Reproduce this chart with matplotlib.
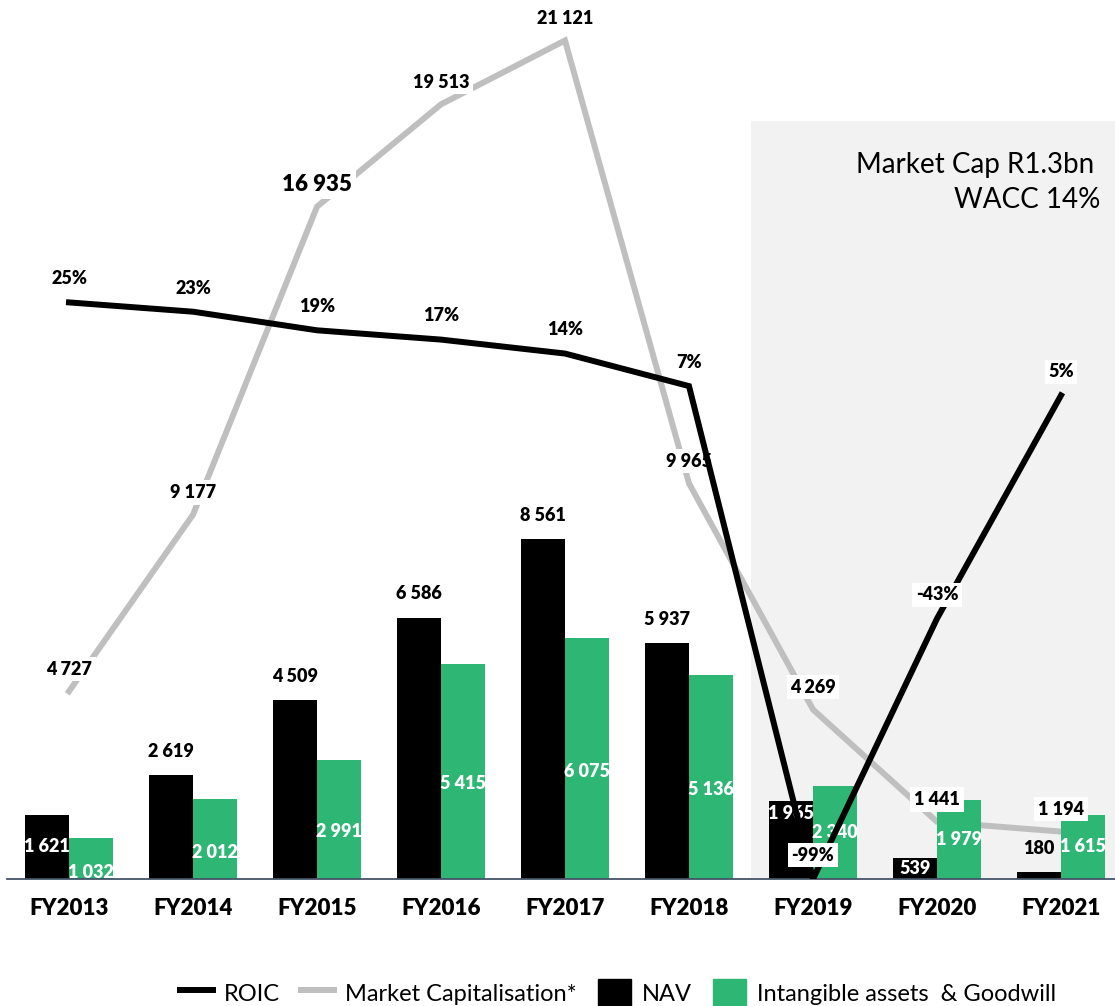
import matplotlib
matplotlib.use("Agg")
import matplotlib.pyplot as plt
from matplotlib.lines import Line2D
from matplotlib.patches import Patch
import numpy as np

plt.rcParams['font.family'] = ['Lato', 'DejaVu Sans']

years = ['FY2013', 'FY2014', 'FY2015', 'FY2016', 'FY2017', 'FY2018', 'FY2019', 'FY2020', 'FY2021']
nav = [1621, 2619, 4509, 6586, 8561, 5937, 1965, 539, 180]
intangibles = [1032, 2012, 2991, 5415, 6075, 5136, 2340, 1979, 1615]
market_cap = [4727, 9177, 16935, 19513, 21121, 9965, 4269, 1441, 1194]
roic = [25, 23, 19, 17, 14, 7, -99, -43, 5]

# where each NAV label sits relative to its bar
nav_label_pos = ['center', 'out', 'out', 'out', 'out', 'out', 'end', 'center', 'out']
# green labels sit a little below the bar middle (pixels)
green_label_shift = [-14, -13, -12, -12, -13, -12, 0, 0, 0]

black = '#000000'
green = '#2DB674'
grey = '#BFBFBF'
shade = '#F2F2F2'
bold = 'heavy'

def fmt(v):
    return f"{v:,}".replace(",", " ")

W, H = 1115, 1006
fig = plt.figure(figsize=(W / 100, H / 100), dpi=100)

axis_y = 879
ax = fig.add_axes([7 / W, (H - axis_y) / H, (W - 7) / W, axis_y / H])
ax2 = ax.twinx()

px_per_unit = 0.0397
ax.set_ylim(0, axis_y / px_per_unit)
ax.set_xlim(-0.5, (W - 69) / 124)

# ROIC axis: -99% sits on the baseline, about 4.65px per percent
ax2.set_ylim(-99, -99 + axis_y / 4.65)

x = np.arange(len(years))
bw = 0.355

ax.axvspan(5.5, 9, ymin=0, ymax=(axis_y - 121) / axis_y, color=shade, zorder=0, lw=0)

ax.plot(x, market_cap, color=grey, lw=4.3, zorder=2, solid_joinstyle='miter')
ax.bar(x - bw / 2, nav, bw, color=black, zorder=3)
ax.bar(x + bw / 2, intangibles, bw, color=green, zorder=3)

ax2.plot(x, roic, color=black, lw=4.3, zorder=4, solid_joinstyle='miter')

ax.set_zorder(1)
ax2.set_zorder(2)
ax.patch.set_visible(False)
ax2.patch.set_visible(False)

box = dict(boxstyle='square,pad=0.2', fc='white', ec='none')

# market cap labels
for i, v in enumerate(market_cap):
    size = 16 if v == 16935 else 13
    ax.annotate(fmt(v), xy=(x[i], v), xytext=(0, 16), textcoords='offset points',
                ha='center', va='center', fontsize=size, fontweight=bold,
                bbox=box, zorder=10, annotation_clip=False)

# ROIC labels
for i, v in enumerate(roic):
    ax2.annotate(f"{v}%", xy=(x[i], v), xytext=(0, 17), textcoords='offset points',
                 ha='center', va='center', fontsize=13, fontweight=bold,
                 bbox=box, zorder=10, annotation_clip=False)

# NAV labels
for i, v in enumerate(nav):
    pos = nav_label_pos[i]
    xi = x[i] - bw / 2
    if pos == 'out':
        ax.annotate(fmt(v), xy=(xi, v), xytext=(0, 17), textcoords='offset points',
                    ha='center', va='center', fontsize=13, fontweight=bold, color=black, zorder=6)
    elif pos == 'end':
        ax.annotate(fmt(v), xy=(xi, v), xytext=(0, -9), textcoords='offset points',
                    ha='center', va='center', fontsize=13, fontweight=bold, color='white', zorder=6)
    else:
        ax.annotate(fmt(v), xy=(xi, v / 2), ha='center', va='center', fontsize=13,
                    fontweight=bold, color='white', zorder=6)

# intangibles labels
for i, v in enumerate(intangibles):
    ax.annotate(fmt(v), xy=(x[i] + bw / 2, v / 2), xytext=(0, green_label_shift[i] * 0.72),
                textcoords='offset points', ha='center', va='center', fontsize=13,
                fontweight=bold, color='white', zorder=6)

ax.text((1094 - 7) / (W - 7), (axis_y - 165) / axis_y, 'Market Cap R1.3bn', transform=ax.transAxes,
        ha='right', va='center', fontsize=20, zorder=7)
ax.text((1100 - 7) / (W - 7), (axis_y - 200) / axis_y, 'WACC 14%', transform=ax.transAxes,
        ha='right', va='center', fontsize=20, zorder=7)

for a in (ax, ax2):
    for s in a.spines.values():
        s.set_visible(False)
    a.set_yticks([])
ax.spines['bottom'].set_visible(True)
ax.spines['bottom'].set_color('#44546A')
ax.spines['bottom'].set_linewidth(1.3)
ax.spines['bottom'].set_zorder(8)

ax.set_xticks(x)
ax.set_xticklabels(years, fontsize=16, fontweight=bold)
ax.tick_params(axis='x', length=0, pad=14)

handles = [Line2D([], [], color=black, lw=4.3),
           Line2D([], [], color=grey, lw=4.3),
           Patch(color=black),
           Patch(color=green)]
labels = ['ROIC', 'Market Capitalisation*', 'NAV', 'Intangible assets  & Goodwill']
fig.legend(handles, labels, loc='center', bbox_to_anchor=(618 / W, 13 / H), ncol=4,
           frameon=False, fontsize=17, handlelength=1.4, handleheight=1.5,
           handletextpad=0.45, columnspacing=0.9, borderpad=0)

fig.savefig('out.png', dpi=100)
